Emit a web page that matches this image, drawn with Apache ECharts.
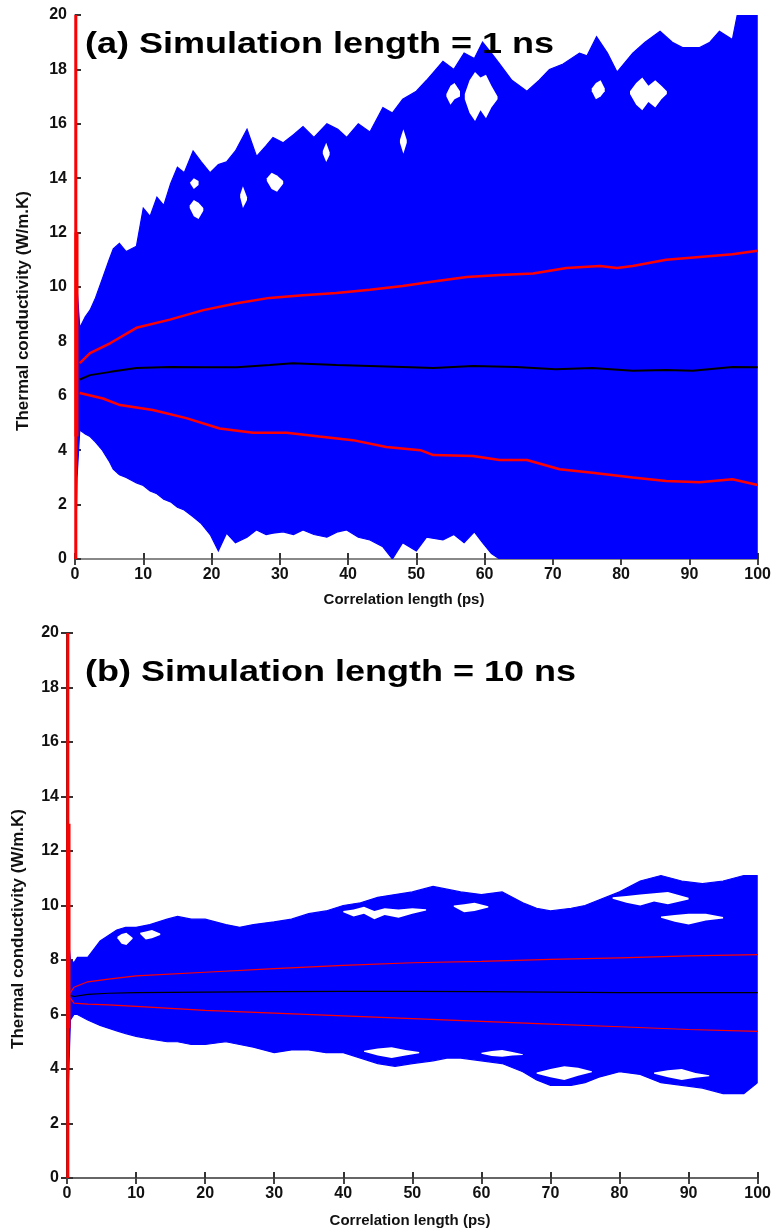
<!DOCTYPE html>
<html><head><meta charset="utf-8">
<script src="https://cdn.jsdelivr.net/npm/echarts@6/dist/echarts.min.js"></script>
<style>html,body{margin:0;padding:0;background:#fff}#c{width:774px;height:1232px}</style>
</head><body><div id="c"></div>
<script>
// ---------- shared ticks ----------
var xTicks = [0,10,20,30,40,50,60,70,80,90,100];
var yTicks = [0,2,4,6,8,10,12,14,16,18,20];

// ---------- panel (a): 1 ns ----------
var aBandX = [0.1,0.3,0.7,1.5,2.2,3,4,5,5.6,6.5,7.5,9,10,11,12,13,14,15,16,17.3,18.5,19.8,21,22.2,23.5,25.2,26.6,28,29,30.5,32,33.4,35,36.9,38.5,39.8,41.5,43.2,45.1,46.5,48,50,51.5,53.9,55.5,57,58.5,59.7,61,62.2,64,66.2,68,69.5,71.5,73.9,75,76.4,78,79.4,81.7,83.5,85.7,87.5,89,91.5,93,94.4,96.3,97.4,98.5,100];
var aBandUpper = [14.5,10,8.5,8.9,9.15,9.6,10.3,11.0,11.4,11.6,11.3,11.5,12.9,12.6,13.3,13.0,13.8,14.4,14.2,15.0,14.6,14.2,14.5,14.6,15.0,15.8,14.8,15.2,15.5,15.3,15.6,15.9,15.5,16.0,15.8,15.5,16.0,15.7,16.6,16.4,16.9,17.2,17.6,18.3,18.0,18.6,18.4,19.0,18.6,18.2,17.6,17.2,17.6,18.0,18.2,18.6,18.5,19.2,18.6,17.9,18.6,19.0,19.4,19.0,18.8,18.8,19.0,19.4,19.1,20.5,21,21];
var aBandLower = [0.3,3,4.74,4.6,4.5,4.3,4.0,3.6,3.3,3.1,3.0,2.8,2.7,2.5,2.4,2.2,2.1,1.9,1.8,1.55,1.3,0.9,0.3,0.95,0.6,0.8,1.07,0.9,0.95,1.0,0.9,1.07,0.9,0.8,1.0,1.07,0.8,0.7,0.45,0,0.6,0.3,0.8,0.7,0.9,0.6,1.0,0.6,0.2,0,0,0,0,0,0,0,0,0,0,0,0,0,0,0,0,0,0,0,0,0,0,0];
// white gaps between outlying traces: [x, low, high]
var aHoles = [
  [[54.4,17.0,17.1],[55.0,16.7,17.4],[55.6,16.9,17.5],[56.4,17.0,17.2]],
  [[57.1,16.9,17.1],[57.8,16.4,17.6],[58.6,16.1,17.9],[59.4,16.5,17.7],[60.2,16.2,17.8],[61.0,16.6,17.4],[61.9,16.9,17.0]],
  [[75.7,17.2,17.3],[76.3,16.9,17.5],[77.0,17.0,17.6],[77.6,17.2,17.3]],
  [[81.3,17.1,17.2],[82.2,16.7,17.5],[83.1,16.5,17.7],[84.0,16.8,17.4],[85.0,16.6,17.6],[85.9,16.9,17.4],[86.7,17.1,17.2]],
  [[28.1,13.9,14.0],[28.8,13.6,14.2],[29.6,13.5,14.1],[30.5,13.8,13.9]],
  [[16.8,12.9,13.0],[17.4,12.6,13.2],[18.1,12.5,13.1],[18.8,12.8,12.9]],
  [[16.9,13.8,13.85],[17.4,13.6,14.0],[18.1,13.75,13.9]],
  [[24.2,13.3,13.4],[24.6,12.9,13.7],[25.2,13.2,13.3]],
  [[36.3,14.9,15.0],[36.8,14.6,15.3],[37.3,14.85,14.95]],
  [[47.6,15.3,15.4],[48.1,14.9,15.8],[48.6,15.3,15.4]]
];
var aStatX = [0.7,2.2,5.2,9,13.9,18.8,23.7,28.5,33.4,38.3,43.2,48,52.5,57.4,62.2,67.1,72,76.9,79.4,81.7,86.6,91.5,96.3,100];
var aRedUpper = [7.2,7.57,7.94,8.5,8.8,9.15,9.4,9.6,9.7,9.78,9.9,10.04,10.2,10.37,10.44,10.5,10.7,10.77,10.7,10.77,11.0,11.1,11.2,11.33];
var aMeanX = [0.7,2.2,5.2,9,13.9,18.8,23.7,28.5,31.9,38.3,48,52.5,58.3,64.6,70.4,75.8,81.7,86.6,90.5,96.3,100];
var aMean = [6.6,6.76,6.88,7.02,7.06,7.05,7.05,7.13,7.2,7.13,7.06,7.02,7.1,7.06,6.98,7.02,6.92,6.95,6.92,7.06,7.05];
var aLowX = [0.7,4.1,6.6,11.4,16.3,21.2,26.1,31,35.8,40.7,45.6,50.6,52.5,58.3,62.2,66.2,71,75.8,81.7,86.6,91.5,96.3,100];
var aRedLower = [6.1,5.9,5.66,5.48,5.18,4.8,4.64,4.64,4.5,4.37,4.12,4.0,3.82,3.79,3.64,3.64,3.3,3.17,3.0,2.87,2.82,2.93,2.72];
var aSpikeX = [0.12,0.12];
var aSpikeY = [0,20];
var aSpike2X = [0.22,0.22];
var aSpike2Y = [4.5,12];

// ---------- panel (b): 10 ns ----------
var bBandX = [0.2,0.5,1,1.5,3,4.8,6,7.2,8.5,10,12,14.5,16,18,20,23,25,27,30,32.5,35,37.5,40,42.5,45,47.5,50,53,55,57,60,63,66,68,70,73,75,77,80,83,86,89,92,95,98,100];
var bBandUpper = [8.8,8.0,7.9,8.1,8.1,8.7,8.9,9.1,9.2,9.2,9.3,9.5,9.6,9.5,9.5,9.3,9.2,9.3,9.4,9.5,9.7,9.8,10.0,10.1,10.3,10.4,10.5,10.7,10.6,10.5,10.4,10.5,10.1,9.9,9.8,9.9,10.0,10.2,10.5,10.9,11.1,10.9,10.8,10.9,11.1,11.1];
var bBandLower = [3.5,5.8,6.0,6.0,5.8,5.6,5.5,5.4,5.3,5.2,5.1,5.0,5.0,4.9,4.9,5.0,4.9,4.8,4.6,4.7,4.7,4.6,4.6,4.4,4.2,4.1,4.2,4.3,4.4,4.4,4.3,4.2,3.9,3.6,3.4,3.4,3.5,3.7,3.9,3.8,3.5,3.4,3.3,3.1,3.1,3.5];
var bHoles = [
  [[7.3,8.8,8.85],[7.9,8.6,8.95],[8.6,8.55,9.0],[9.5,8.78,8.82]],
  [[10.6,8.95,9.0],[11.4,8.75,9.05],[12.3,8.8,9.1],[13.5,8.92,8.97]],
  [[40,9.75,9.8],[41.5,9.6,9.85],[43,9.7,9.95],[44.5,9.5,9.8],[46,9.65,9.9],[48,9.55,9.85],[50,9.7,9.9],[52,9.82,9.86]],
  [[56,9.95,10.0],[57.5,9.75,10.05],[59,9.8,10.1],[61,9.93,9.97]],
  [[79,10.25,10.3],[81,10.1,10.35],[83,10.0,10.4],[85,10.15,10.45],[87,10.05,10.5],[90,10.22,10.28]],
  [[86,9.55,9.6],[88,9.4,9.65],[90,9.3,9.7],[92.5,9.45,9.7],[95,9.52,9.58]],
  [[43,4.63,4.67],[45,4.5,4.75],[47,4.4,4.8],[49,4.5,4.7],[51,4.58,4.62]],
  [[68,3.83,3.87],[70,3.7,4.0],[72,3.6,4.1],[74,3.75,4.05],[76,3.88,3.92]],
  [[85,3.83,3.87],[87,3.7,3.95],[89,3.6,4.0],[91,3.68,3.85],[93,3.73,3.77]],
  [[60,4.56,4.6],[61.5,4.48,4.66],[63,4.45,4.7],[64.5,4.5,4.62],[66,4.51,4.54]]
];
var bStatX = [0.5,1,3,6,10,20,30,40,50,60,70,80,90,100];
var bRedUpper = [6.8,7.0,7.2,7.3,7.42,7.55,7.68,7.8,7.9,7.95,8.02,8.08,8.15,8.2];
var bMean = [6.7,6.66,6.74,6.78,6.8,6.82,6.84,6.85,6.85,6.84,6.82,6.8,6.8,6.8];
var bRedLower = [6.6,6.42,6.38,6.35,6.3,6.15,6.05,5.95,5.85,5.75,5.65,5.55,5.45,5.38];
var bSpikeX = [0.12,0.12];
var bSpikeY = [0,20];
var bSpike2X = [0.22,0.22];
var bSpike2Y = [5.5,13];

// ---------- build ----------
function pairs(xs, ys){ return xs.map(function(x,i){ return [x, ys[i]]; }); }

// filled region between two boundaries, drawn through the axes' coordinate conversion
function polySeries(gi, xs, lo, hi, color, z, smooth, lw){
  return {type:'custom', xAxisIndex:gi*2, yAxisIndex:gi*2, data:[[xs[0], lo[0]]], silent:true, z:z,
    renderItem:function(params, api){
      var pts = [], i;
      for(i=0;i<xs.length;i++) pts.push(api.coord([xs[i], hi[i]]));
      for(i=xs.length-1;i>=0;i--) pts.push(api.coord([xs[i], lo[i]]));
      var cs = params.coordSys;
      return {type:'polygon', shape:{points:pts, smooth:smooth||0},
        style:{fill:color, stroke:lw ? color : null, lineWidth:lw||0},
        clipPath:{type:'rect', shape:{x:cs.x, y:cs.y, width:cs.width, height:cs.height}}};
    }};
}
function holeSeries(gi, holes){
  return holes.map(function(h){
    return polySeries(gi, h.map(function(p){return p[0];}), h.map(function(p){return p[1];}),
                      h.map(function(p){return p[2];}), '#ffffff', 3, 0, 0);
  });
}
function lineSeries(gi, xs, ys, color, w, z){
  return {type:'line', xAxisIndex:gi*2, yAxisIndex:gi*2, data:pairs(xs, ys), symbol:'none',
    lineStyle:{color:color, width:w}, silent:true, z:z||4};
}

var FF = 'Liberation Sans, Arial, sans-serif';
var labelFont = {fontFamily:FF, fontWeight:'bold', fontSize:16, color:'#111'};

function axesFor(gi, topColor, rightColor, rightTicks){
  return {
    x: [
      {gridIndex:gi, type:'value', min:0, max:100, interval:10, position:'bottom',
       axisLine:{lineStyle:{color:'#333', width:2}}, axisTick:{inside:true, length:6, lineStyle:{color:'#333', width:2}},
       axisLabel:Object.assign({margin:8}, labelFont), splitLine:{show:false}},
      {gridIndex:gi, type:'value', min:0, max:100, interval:10, position:'top',
       axisLine:{lineStyle:{color:topColor, width:2}}, axisTick:{inside:true, length:6, lineStyle:{color:'#444', width:2}},
       axisLabel:{show:false}, splitLine:{show:false}}
    ],
    y: [
      {gridIndex:gi, type:'value', min:0, max:20, interval:2, position:'left',
       axisLine:{lineStyle:{color:'#333', width:2}}, axisTick:{inside:true, length:6, lineStyle:{color:'#333', width:2}},
       axisLabel:Object.assign({margin:8}, labelFont), splitLine:{show:false}},
      {gridIndex:gi, type:'value', min:0, max:20, interval:2, position:'right',
       axisLine:{lineStyle:{color:rightColor, width:2}}, axisTick:{show:rightTicks, inside:true, length:6, lineStyle:{color:'#333', width:2}},
       axisLabel:{show:false}, splitLine:{show:false}}
    ]
  };
}
var A0 = axesFor(0, '#888', '#d8d8e8', false);
var A1 = axesFor(1, '#666', '#333', true);

var series = []
  .concat([polySeries(0, aBandX, aBandLower, aBandUpper, '#0000ff', 2, 0, 1.2)])
  .concat(holeSeries(0, aHoles))
  .concat([
    lineSeries(0, aStatX, aRedUpper, '#ff0000', 2.5),
    lineSeries(0, aLowX, aRedLower, '#ff0000', 2.5),
    lineSeries(0, aMeanX, aMean, '#000000', 2),
    lineSeries(0, aSpikeX, aSpikeY, '#ff0000', 3, 5),
    lineSeries(0, aSpike2X, aSpike2Y, '#ff0000', 4, 5)
  ])
  .concat([polySeries(1, bBandX, bBandLower, bBandUpper, '#0000ff', 2, 0, 1.2)])
  .concat(holeSeries(1, bHoles))
  .concat([
    lineSeries(1, bStatX, bRedUpper, '#ff0000', 1.2),
    lineSeries(1, bStatX, bRedLower, '#ff0000', 1.2),
    lineSeries(1, bStatX, bMean, '#000000', 1.2),
    lineSeries(1, bSpikeX, bSpikeY, '#ff0000', 3, 5),
    lineSeries(1, bSpike2X, bSpike2Y, '#ff0000', 4, 5)
  ]);

var titleFont = 'bold 30px "Liberation Sans", Arial, sans-serif';
var nameFontY = 'bold 17px "Liberation Sans", Arial, sans-serif';
var nameFontX = 'bold 15px "Liberation Sans", Arial, sans-serif';

var chart = echarts.init(document.getElementById('c'), null, {renderer:'canvas'});
chart.setOption({
  animation:false,
  backgroundColor:'#ffffff',
  grid:[
    {left:75, right:16, top:15, height:544},
    {left:67, right:16, top:633, height:545}
  ],
  xAxis:[A0.x[0], A0.x[1], A1.x[0], A1.x[1]],
  yAxis:[A0.y[0], A0.y[1], A1.y[0], A1.y[1]],
  series:series,
  graphic:[
    {type:'text', x:85, y:30, scaleX:1.2, z:100, style:{text:'(a) Simulation length = 1 ns', font:titleFont, fill:'#000'}},
    {type:'text', x:85, y:658, scaleX:1.2, z:100, style:{text:'(b) Simulation length = 10 ns', font:titleFont, fill:'#000'}},
    {type:'text', x:23, y:311, rotation:Math.PI/2, z:100, style:{text:'Thermal conductivity (W/m.K)', font:nameFontY, fill:'#111', align:'center', verticalAlign:'middle'}},
    {type:'text', x:18, y:929, rotation:Math.PI/2, z:100, style:{text:'Thermal conductivity (W/m.K)', font:nameFontY, fill:'#111', align:'center', verticalAlign:'middle'}},
    {type:'text', x:404, y:600, z:100, style:{text:'Correlation length (ps)', font:nameFontX, fill:'#111', align:'center', verticalAlign:'middle'}},
    {type:'text', x:410, y:1221, z:100, style:{text:'Correlation length (ps)', font:nameFontX, fill:'#111', align:'center', verticalAlign:'middle'}}
  ]
});
</script></body></html>
